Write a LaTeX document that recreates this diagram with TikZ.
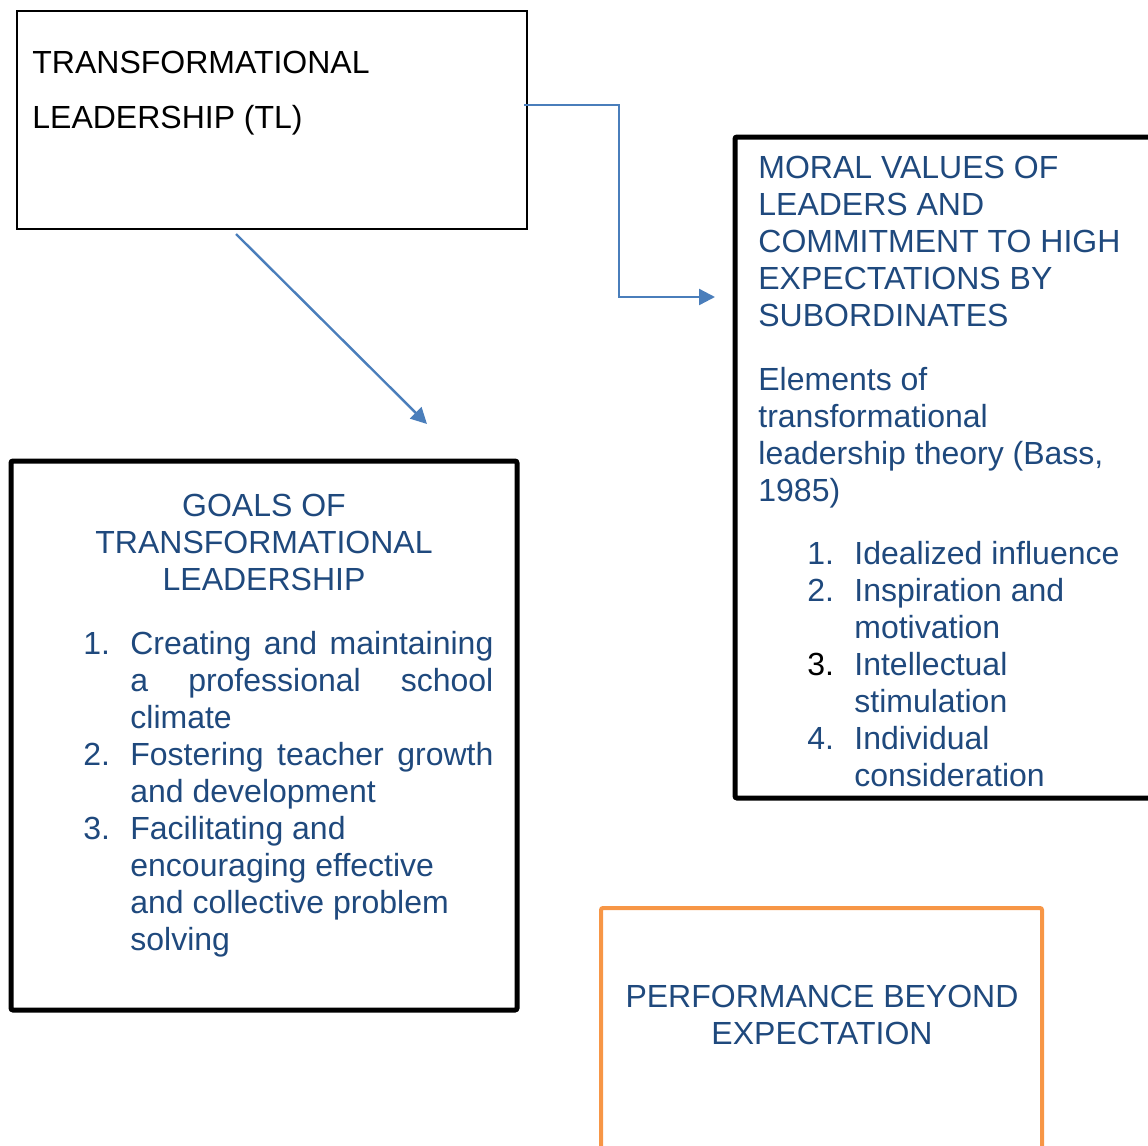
\documentclass[tikz,border=0pt]{standalone}
\usepackage{fontspec}
\setmainfont{Liberation Sans}
\usepackage{tikz}
\usetikzlibrary{arrows.meta,positioning}
\definecolor{inkblue}{RGB}{31,73,125}
\definecolor{linkblue}{RGB}{74,126,187}
\definecolor{frameorange}{RGB}{247,150,70}
\newcommand{\itemno}[1]{\makebox[23.5pt][l]{#1}}
\newcommand{\subline}{\hspace*{23.5pt}}
\newcommand{\fullline}[1]{\makebox[181.5pt][s]{#1}}

\begin{document}
\begin{tikzpicture}[x=0.5pt, y=-0.5pt,
  frame/.style={draw, inner sep=0pt, outer sep=0pt, anchor=north west},
  txt/.style={inner sep=0pt, text=inkblue, font=\fontsize{16}{18.5}\selectfont, align=left},
  link/.style={draw=linkblue, line width=1.2pt, -{Triangle[length=8pt,width=8pt]}}]
  \useasboundingbox (0,0) rectangle (1148,1146);

  \node[frame, line width=1pt, minimum width=255pt, minimum height=109pt] (tlbox) at (17,11) {};
  \node[frame, line width=2.5pt, rounded corners=1pt, minimum width=253pt, minimum height=274.5pt] (goalsbox) at (11,461) {};
  \node[frame, line width=2.5pt, rounded corners=1pt, minimum width=220pt, minimum height=330.5pt] (moralbox) at (735,137) {};
  \node[frame, draw=frameorange, line width=2pt, rounded corners=1pt, minimum width=220.5pt, minimum height=130pt] (perfbox) at (601,908) {};

  \node[txt, text=black, anchor=north west, font=\fontsize{16}{27.5}\selectfont] (tltext) at (32,51) {TRANSFORMATIONAL\\LEADERSHIP (TL)};

  \node[txt, anchor=north west] (moralhead) at (758,156) {MORAL VALUES OF\\LEADERS AND\\COMMITMENT TO HIGH\\EXPECTATIONS BY\\SUBORDINATES};
  \node[txt, anchor=north west] (elements) at (758,367) {Elements of\\transformational\\leadership theory (Bass,\\1985)};
  \node[txt, anchor=north west] (elementlist) at (807,541) {\itemno{1.}Idealized influence\\\itemno{2.}Inspiration and\\\subline motivation\\\itemno{\textcolor{black}{3.}}Intellectual\\\subline stimulation\\\itemno{4.}Individual\\\subline consideration};

  \node[txt, align=center, anchor=north] (goalshead) at (264,494) {GOALS OF\\TRANSFORMATIONAL\\LEADERSHIP};
  \node[txt, anchor=north west] (goallist) at (83,631) {\itemno{1.}\fullline{Creating and maintaining}\\\subline\fullline{a professional school}\\\subline climate\\\itemno{2.}\fullline{Fostering teacher growth}\\\subline and development\\\itemno{3.}Facilitating and\\\subline encouraging effective\\\subline and collective problem\\\subline solving};

  \node[txt, align=center, anchor=north] (perftext) at (822,985) {PERFORMANCE BEYOND\\EXPECTATION};

  \coordinate (tomoral) at (715,297);
  \coordinate (fromtl) at (236,234);
  \coordinate (togoals) at (427,424);
  \draw[link] ([xshift=-1.5pt,yshift=7.5pt]tlbox.east) -- ++(47.5pt,0) |- (tomoral);
  \draw[link] (fromtl) -- (togoals);
\end{tikzpicture}
\end{document}
